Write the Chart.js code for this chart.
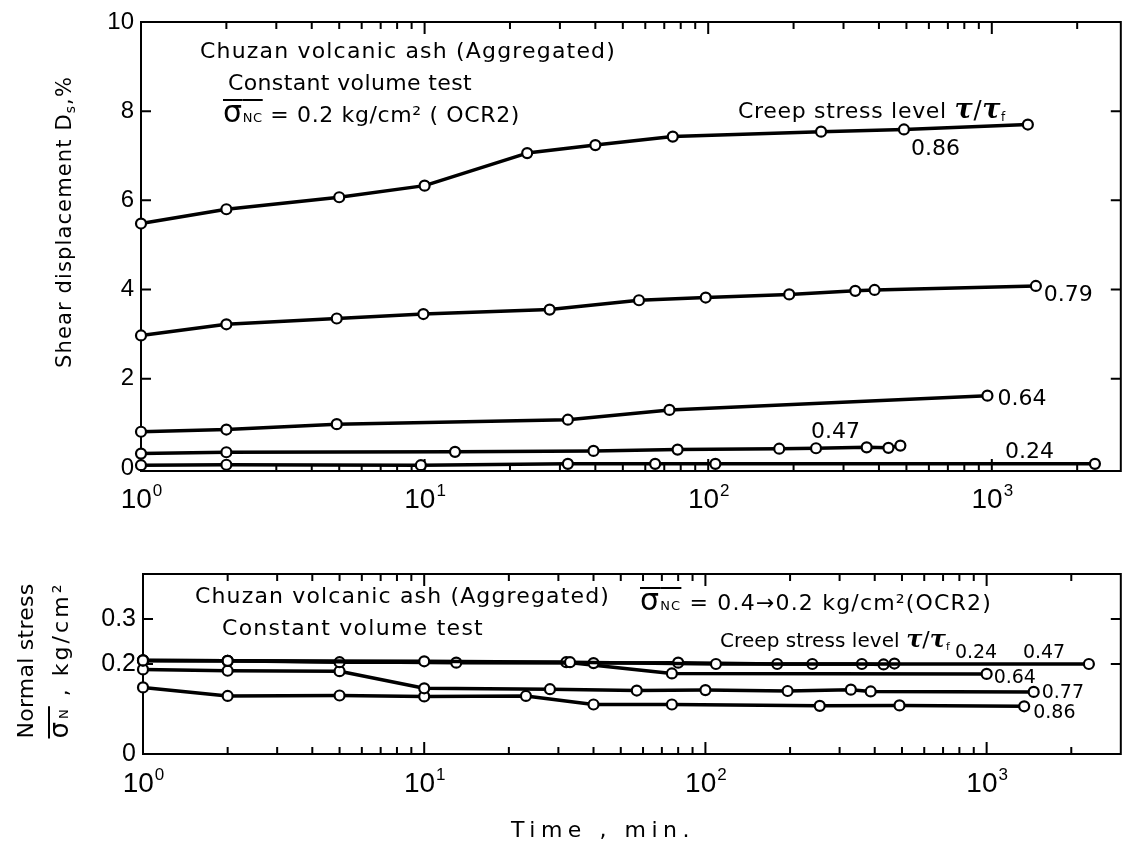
<!DOCTYPE html>
<html>
<head>
<meta charset="utf-8">
<title>Chuzan volcanic ash - creep under constant volume</title>
<script src="https://cdn.jsdelivr.net/npm/chart.js@4.4.1/dist/chart.umd.min.js"></script>
<style>
  html, body { margin: 0; padding: 0; background: #fff; }
  .wrap { position: relative; width: 1128px; height: 848px; overflow: hidden; }
  canvas { position: absolute; left: 0; }
  #shear { top: 0; }
  #normal { top: 540px; }
</style>
</head>
<body>
<div class="wrap">
  <canvas id="shear" width="1128" height="540"></canvas>
  <canvas id="normal" width="1128" height="308"></canvas>
</div>
<script>
// Upper panel: time (min) vs shear displacement Ds (%), one pair per creep stress level
const shearTime086 = [1, 2, 5, 10, 23, 40, 75, 250, 490, 1340];
const shearDisp086 = [5.48, 5.80, 6.07, 6.33, 7.06, 7.24, 7.43, 7.54, 7.59, 7.70];
const shearTime079 = [1, 2, 4.9, 9.9, 27.6, 57, 98, 193, 330, 386, 1430];
const shearDisp079 = [2.97, 3.22, 3.35, 3.45, 3.55, 3.76, 3.82, 3.89, 3.97, 3.99, 4.08];
const shearTime064 = [1, 2, 4.9, 32, 73, 965];
const shearDisp064 = [0.81, 0.86, 0.98, 1.08, 1.30, 1.62];
const shearTime047 = [1, 2, 12.8, 39.4, 78, 178, 240, 362, 432, 476];
const shearDisp047 = [0.32, 0.35, 0.36, 0.38, 0.41, 0.43, 0.44, 0.46, 0.45, 0.50];
const shearTime024 = [1, 2, 9.7, 32, 65, 106, 2310];
const shearDisp024 = [0.06, 0.07, 0.06, 0.09, 0.09, 0.09, 0.09];

// Lower panel: time (min) vs normal stress (kg/cm2)
const normTime024 = [1, 2, 10, 33, 109, 2310];
const normStress024 = [0.208, 0.207, 0.206, 0.204, 0.200, 0.200];
const normTime047 = [1, 2, 13, 40, 80, 180, 240, 360, 430, 470];
const normStress047 = [0.208, 0.207, 0.203, 0.202, 0.203, 0.200, 0.200, 0.200, 0.199, 0.201];
const normTime064 = [1, 2, 5, 32, 76, 1000];
const normStress064 = [0.208, 0.207, 0.204, 0.204, 0.179, 0.178];
const normTime077 = [1, 2, 5, 10, 28, 57, 100, 196, 329, 387, 1470];
const normStress077 = [0.188, 0.185, 0.184, 0.146, 0.144, 0.141, 0.142, 0.140, 0.143, 0.139, 0.138];
const normTime086 = [1, 2, 5, 10, 23, 40, 76, 255, 490, 1360];
const normStress086 = [0.148, 0.129, 0.130, 0.128, 0.129, 0.110, 0.110, 0.107, 0.108, 0.106];

// axis ticks
const decades = [1, 10, 100, 1000];
const shearTicks = [0, 2, 4, 6, 8, 10];
const normTicks = [0, 0.2, 0.3];

const F = (size, extra) => `${extra || ''} ${size}px "DejaVu Sans"`.trim();
const TAU = 'italic bold 27px "DejaVu Serif"';
const TAU_SMALL = 'italic bold 24px "DejaVu Serif"';

function series(times, values) {
  return times.map((t, i) => ({ x: t, y: values[i] }));
}

const lineStyle = {
  borderColor: '#000',
  borderWidth: 3.5,
  borderJoinStyle: 'round',
  pointRadius: 5,
  pointBorderWidth: 2.2,
  pointBackgroundColor: '#fff',
  pointBorderColor: '#000',
  tension: 0,
  fill: false,
  clip: false,
};

// draws a run of text pieces, stretched to the given width
function drawSegs(ctx, segs, x, y, width, align) {
  ctx.save();
  ctx.textBaseline = 'alphabetic';
  ctx.textAlign = 'left';
  ctx.fillStyle = '#000';
  ctx.letterSpacing = '0px';
  let w0 = 0, n = 0;
  const widths = segs.map((s) => {
    ctx.font = s.font;
    const w = ctx.measureText(s.text).width;
    w0 += w;
    n += s.text.length;
    return w;
  });
  const sp = width ? (width - w0) / n : 0;
  let cx = align === 'center' ? x - (w0 + sp * n) / 2 : x;
  segs.forEach((s, i) => {
    ctx.font = s.font;
    ctx.letterSpacing = sp + 'px';
    ctx.fillText(s.text, cx, y + (s.dy || 0));
    const w = widths[i] + sp * s.text.length;
    if (s.bar) ctx.fillRect(cx, y + s.bar, w - (i === segs.length - 1 ? sp : 0), 2);
    cx += w;
  });
  ctx.restore();
}

const decor = {
  id: 'decor',
  beforeDatasetsDraw(chart, args, o) {
    const { ctx, chartArea: a, scales: { x, y } } = chart;
    ctx.save();
    ctx.strokeStyle = '#000';
    ctx.lineWidth = 2;
    ctx.strokeRect(a.left, a.top, a.right - a.left, a.bottom - a.top);
    ctx.beginPath();
    decades.forEach((base) => {
      for (let k = 1; k <= 9; k++) {
        const v = k * base;
        if (v <= x.min || v >= x.max) continue;
        const px = x.getPixelForValue(v);
        const len = k === 1 ? 12 : 7;
        ctx.moveTo(px, a.bottom); ctx.lineTo(px, a.bottom - len);
        ctx.moveTo(px, a.top); ctx.lineTo(px, a.top + len);
      }
    });
    y.ticks.forEach((t) => {
      const py = y.getPixelForValue(t.value);
      if (py < a.top + 5 || py > a.bottom - 5) return;
      ctx.moveTo(a.left, py); ctx.lineTo(a.left + 10, py);
      ctx.moveTo(a.right, py); ctx.lineTo(a.right - 10, py);
    });
    ctx.stroke();
    ctx.restore();
  },
  afterDatasetsDraw(chart, args, o) {
    const { ctx, scales: { x } } = chart;
    ctx.save();
    ctx.fillStyle = '#000';
    ctx.textBaseline = 'alphabetic';
    // log axis labels 10^n
    decades.forEach((v) => {
      const d = String(Math.round(Math.log10(v)));
      const px = x.getPixelForValue(v);
      ctx.font = '28px "Liberation Sans"';
      const w1 = ctx.measureText('10').width;
      ctx.font = '17px "Liberation Sans"';
      const w2 = ctx.measureText(d).width;
      const left = px - (w1 + w2) / 2;
      ctx.font = '28px "Liberation Sans"';
      ctx.fillText('10', left, o.xLabelY);
      ctx.font = '17px "Liberation Sans"';
      ctx.fillText(d, left + w1 + 1, o.xLabelY - 12);
    });
    ctx.restore();

    o.texts.forEach((t) => {
      if (t.rot) {
        ctx.save();
        ctx.translate(t.x, t.y);
        ctx.rotate(-Math.PI / 2);
        drawSegs(ctx, t.segs, 0, 0, t.w, 'center');
        ctx.restore();
      } else {
        drawSegs(ctx, t.segs, t.x, t.y, t.w, t.align);
      }
    });

    ctx.save();
    ctx.fillStyle = '#000';
    ctx.textBaseline = 'middle';
    ctx.font = o.valueFont;
    o.valueLabels.forEach((l) => {
      const pts = chart.getDatasetMeta(l.ds).data;
      const p = pts[l.pt < 0 ? pts.length + l.pt : l.pt];
      ctx.fillText(l.text, p.x + l.dx, p.y + l.dy);
    });
    ctx.restore();
  },
};

function makeOptions(cfg) {
  return {
    responsive: false,
    animation: false,
    events: [],
    layout: { padding: cfg.padding },
    plugins: {
      legend: { display: false },
      tooltip: { enabled: false },
      decor: cfg.decor,
    },
    scales: {
      x: {
        type: 'logarithmic',
        min: 1,
        max: cfg.xMax,
        ticks: { display: false },
        grid: { display: false, drawTicks: false },
        border: { display: false },
        afterBuildTicks: (s) => { s.ticks = decades.map((v) => ({ value: v })); },
        afterFit: (s) => { s.height = cfg.xAxisH; },
      },
      y: {
        type: 'linear',
        min: cfg.yMin,
        max: cfg.yMax,
        afterBuildTicks: (s) => { s.ticks = cfg.yTicks.map((v) => ({ value: v })); },
        ticks: {
          color: '#000',
          font: { family: 'Liberation Sans', size: cfg.yFont },
          padding: 7,
          callback: (v) => String(v),
        },
        grid: { display: false, drawTicks: false },
        border: { display: false },
        afterFit: (s) => { s.width = cfg.yAxisW; },
      },
    },
  };
}

const shearChart = new Chart(document.getElementById('shear'), {
  type: 'line',
  data: {
    datasets: [
      { ...lineStyle, data: series(shearTime086, shearDisp086) },
      { ...lineStyle, data: series(shearTime079, shearDisp079) },
      { ...lineStyle, data: series(shearTime064, shearDisp064) },
      { ...lineStyle, data: series(shearTime047, shearDisp047) },
      { ...lineStyle, data: series(shearTime024, shearDisp024) },
    ],
  },
  options: makeOptions({
    padding: { top: 22, right: 4, left: 0, bottom: 0 },
    xMax: 2850, xAxisH: 69, yAxisW: 141,
    yMin: -0.07, yMax: 10, yTicks: shearTicks, yFont: 24,
    decor: {
      xLabelY: 508,
      valueFont: F(22),
      texts: [
        { segs: [{ text: 'Chuzan volcanic ash (Aggregated)', font: F(22) }], x: 200, y: 58, w: 416 },
        { segs: [{ text: 'Constant volume test', font: F(22) }], x: 228, y: 90, w: 244 },
        { segs: [
            { text: 'σ', font: F(30), bar: -23 },
            { text: 'NC', font: F(13), bar: -23 },
            { text: ' = 0.2 kg/cm² ( OCR2)', font: F(22) },
          ], x: 223, y: 122, w: 297 },
        { segs: [
            { text: 'Creep stress level ', font: F(22) },
            { text: 'τ', font: TAU },
            { text: '/', font: F(24) },
            { text: 'τ', font: TAU },
            { text: 'f', font: F(12), dy: 3 },
          ], x: 738, y: 118, w: 268 },
        { rot: true, segs: [
            { text: 'Shear displacement D', font: F(21) },
            { text: 's', font: F(14), dy: 4 },
            { text: ',%', font: F(21) },
          ], x: 71, y: 222, w: 292 },
      ],
      valueLabels: [
        { text: '0.86', ds: 0, pt: 8, dx: 7, dy: 20 },
        { text: '0.79', ds: 1, pt: -1, dx: 8, dy: 9 },
        { text: '0.64', ds: 2, pt: -1, dx: 10, dy: 4 },
        { text: '0.47', ds: 3, pt: 6, dx: -5, dy: -16 },
        { text: '0.24', ds: 4, pt: -1, dx: -90, dy: -12 },
      ],
    },
  }),
  plugins: [decor],
});

const normalChart = new Chart(document.getElementById('normal'), {
  type: 'line',
  data: {
    datasets: [
      { ...lineStyle, data: series(normTime024, normStress024) },
      { ...lineStyle, data: series(normTime047, normStress047) },
      { ...lineStyle, data: series(normTime064, normStress064) },
      { ...lineStyle, data: series(normTime077, normStress077) },
      { ...lineStyle, data: series(normTime086, normStress086) },
    ],
  },
  options: makeOptions({
    padding: { top: 34, right: 5, left: 0, bottom: 0 },
    xMax: 3000, xAxisH: 94, yAxisW: 143,
    yMin: 0, yMax: 0.4, yTicks: normTicks, yFont: 25,
    decor: {
      xLabelY: 252,
      valueFont: F(19),
      texts: [
        { segs: [{ text: 'Chuzan volcanic ash (Aggregated)', font: F(22) }], x: 195, y: 63, w: 415 },
        { segs: [{ text: 'Constant volume test', font: F(22) }], x: 222, y: 95, w: 262 },
        { segs: [
            { text: 'σ', font: F(30), bar: -23 },
            { text: 'NC', font: F(13), bar: -23 },
            { text: ' = 0.4→0.2 kg/cm²(OCR2)', font: F(22) },
          ], x: 640, y: 70, w: 352 },
        { segs: [
            { text: 'Creep stress level ', font: F(20) },
            { text: 'τ', font: TAU_SMALL },
            { text: '/', font: F(22) },
            { text: 'τ', font: TAU_SMALL },
            { text: 'f', font: F(11), dy: 3 },
          ], x: 720, y: 107, w: 230 },
        { rot: true, segs: [{ text: 'Normal stress', font: F(22) }], x: 33, y: 121, w: 155 },
        { rot: true, segs: [
            { text: 'σ', font: F(26), bar: -20 },
            { text: 'N', font: F(13), bar: -20 },
            { text: ' , kg/cm²', font: F(22) },
          ], x: 68, y: 120, w: 157 },
        { segs: [{ text: 'Time , min.', font: F(22) }], x: 603, y: 297, w: 184, align: 'center' },
      ],
      valueLabels: [
        { text: '0.24', ds: 0, pt: -1, dx: -134, dy: -11 },
        { text: '0.47', ds: 0, pt: -1, dx: -66, dy: -11 },
        { text: '0.64', ds: 2, pt: -1, dx: 7, dy: 4 },
        { text: '0.77', ds: 3, pt: -1, dx: 8, dy: 1 },
        { text: '0.86', ds: 4, pt: -1, dx: 9, dy: 7 },
      ],
    },
  }),
  plugins: [decor],
});
</script>
</body>
</html>
